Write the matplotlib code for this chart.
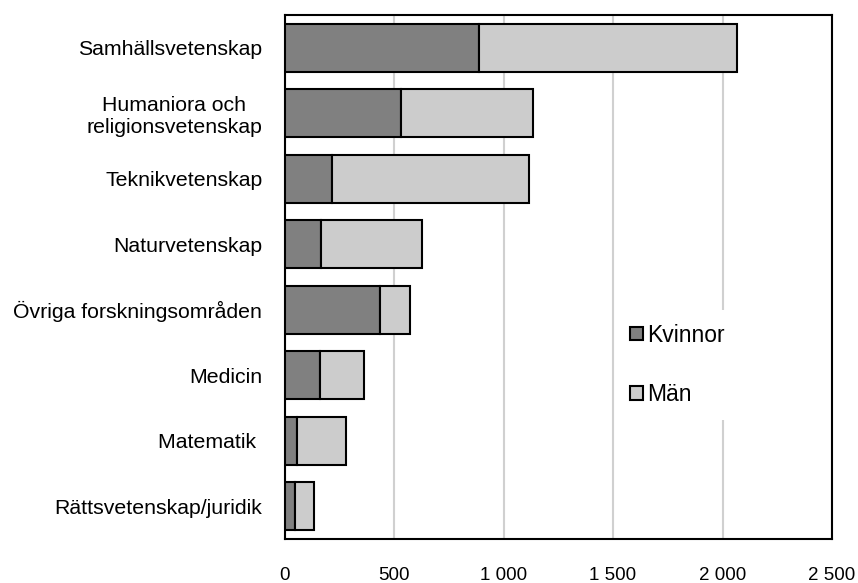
import numpy as np
import matplotlib.pyplot as plt

categories = ["Samhällsvetenskap", "Humaniora och\nreligionsvetenskap", "Teknikvetenskap",
              "Naturvetenskap", "Övriga forskningsområden", "Medicin", "Matematik ",
              "Rättsvetenskap/juridik"]
kvinnor = [889, 533, 215, 168, 435, 161, 59, 49]
totals = [2065, 1136, 1118, 626, 572, 362, 279, 133]
man = [t - k for t, k in zip(totals, kvinnor)]
xticks = [0, 500, 1000, 1500, 2000, 2500]
xticklabels = ["0", "500", "1 000", "1 500", "2 000", "2 500"]

plt.rcParams['font.family'] = ['Liberation Sans', 'DejaVu Sans']

fig = plt.figure(figsize=(8.58, 5.83), dpi=100)
ax = fig.add_axes([284.5 / 858, 1 - 539 / 583, (832 - 284.5) / 858, (539 - 15) / 583])

y = np.arange(len(categories))
ax.barh(y, kvinnor, height=0.73, color="#808080", edgecolor="black", linewidth=1.5, label="Kvinnor", zorder=3)
ax.barh(y, man, left=kvinnor, height=0.73, color="#cccccc", edgecolor="black", linewidth=1.5, label="Män", zorder=3)

ax.set_ylim(len(categories) - 0.5, -0.5)
ax.set_xlim(0, 2500)
ax.set_yticks(y)
ax.set_yticklabels(categories, fontsize=15.3, multialignment="center")
ax.tick_params(axis="y", length=0, pad=16)
ax.set_xticks(xticks)
ax.set_xticklabels(xticklabels, fontsize=13.5, family=["Liberation Sans Narrow", "Liberation Sans"])
ax.tick_params(axis="x", length=0, pad=20)
ax.xaxis.grid(True, color="#d0d0d0", linewidth=1.5, zorder=0)
ax.set_axisbelow(True)
for s in ax.spines.values():
    s.set_color("black")
    s.set_linewidth(1.5)

leg = ax.legend(loc="center left", bbox_to_anchor=(605 / 858, 1 - 365 / 583), bbox_transform=fig.transFigure,
                fontsize=16.5, frameon=True, facecolor="white", edgecolor="none", framealpha=1,
                handlelength=0.55, handleheight=0.55, handletextpad=0.2, labelspacing=1.6, borderpad=0.6)
for h in leg.legend_handles:
    h.set_linewidth(1.5)

fig.savefig("out.png", dpi=100)
